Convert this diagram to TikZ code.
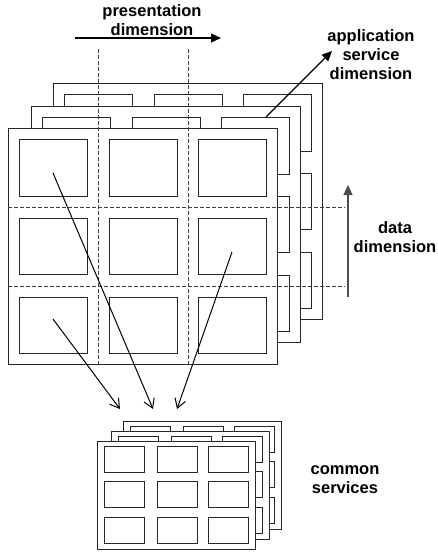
\documentclass[tikz,border=0pt]{standalone}
\usepackage{fontspec}
\setmainfont{Liberation Sans}
\usetikzlibrary{arrows.meta}
\newcommand\bigframe[2]{%
  \draw[frameline,fill=white] (#1,#2) rectangle ++(269,236);
  \foreach \cx in {11,101,190}{
    \foreach \cy/\ch in {11/57,90/56,169/56}{
      \draw[frameline] (#1+\cx,#2+\cy) rectangle ++(68,\ch);
    }
  }%
}
\newcommand\smallframe[2]{%
  \draw[frameline,fill=white] (#1,#2) rectangle ++(158,108);
  \foreach \cx in {7,60,111}{
    \foreach \cy in {5,40,76}{
      \draw[frameline] (#1+\cx,#2+\cy) rectangle ++(40,26);
    }
  }%
}
\begin{document}
\begin{tikzpicture}[x=1pt,y=-1pt,
  frameline/.style={line width=1pt,draw=black!85},
  dimline/.style={line width=1pt,dash pattern=on 4pt off 2pt,draw=black!75},
  dimarrow/.style={line width=1.2pt,-{Triangle[length=10pt,width=9pt]}},
  svcarrow/.style={line width=1pt,-{Straight Barb[length=9pt,width=11pt]}},
  lbl/.style={font=\fontsize{16.5}{19}\selectfont\bfseries,align=center,inner sep=0pt}]
\useasboundingbox (0,0) rectangle (438,552);
% big stack
\bigframe{53}{83}
\bigframe{31}{106}
\bigframe{8}{128}
% small stack
\smallframe{123}{421}
\smallframe{111}{431}
\smallframe{97}{441}
% dashed dimension lines
\coordinate (v1t) at (98,49);  \coordinate (v1b) at (98,364);
\coordinate (v2t) at (188,49); \coordinate (v2b) at (188,364);
\coordinate (h1l) at (8,207);  \coordinate (h1r) at (345,207);
\coordinate (h2l) at (8,286);  \coordinate (h2r) at (345,286);
\draw[dimline] (v1t) -- (v1b);
\draw[dimline] (v2t) -- (v2b);
\draw[dimline] (h1l) -- (h1r);
\draw[dimline] (h2l) -- (h2r);
% labels
\node[lbl] (pres) at (152,20) {presentation\\dimension};
\node[lbl] (app) at (371,55) {application\\service\\dimension};
\node[lbl] (data) at (395,237) {data\\dimension};
\node[lbl] (common) at (345,480) {common\\services};
% dimension arrows
\coordinate (p1) at (75,38);   \coordinate (p2) at (221,38);
\coordinate (a1) at (266,117); \coordinate (a2) at (332,51);
\coordinate (d1) at (348,297); \coordinate (d2) at (348,185);
\draw[dimarrow] (p1) -- (p2);
\draw[dimarrow] (a1) -- (a2);
\draw[dimarrow,draw=black!70] (d1) -- (d2);
% service arrows
\coordinate (s1) at (53,173);  \coordinate (t1) at (153,409);
\coordinate (s2) at (232,252); \coordinate (t2) at (177,409);
\coordinate (s3) at (53,319);  \coordinate (t3) at (120,409);
\draw[svcarrow] (s1) -- (t1);
\draw[svcarrow] (s2) -- (t2);
\draw[svcarrow] (s3) -- (t3);
\end{tikzpicture}
\end{document}
